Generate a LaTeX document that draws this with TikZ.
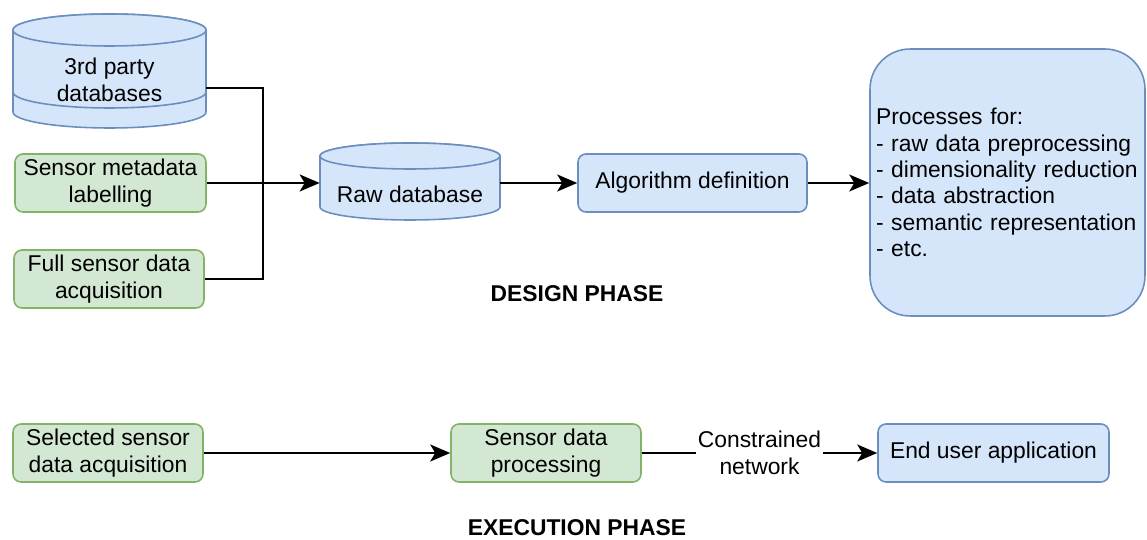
\documentclass[tikz,border=0pt]{standalone}
\usepackage{fontspec}
\setmainfont{Liberation Sans}
\usetikzlibrary{positioning}
\usetikzlibrary{arrows.meta}
\definecolor{bluefill}{HTML}{D6E6FA}
\definecolor{blueline}{HTML}{6C8EBF}
\definecolor{greenfill}{HTML}{D3E8D2}
\definecolor{greenline}{HTML}{82B366}
\newcommand{\txt}{\fontsize{13}{15}\selectfont}
% cylinder: centre x, x radius, y radius, top y, bottom y
\newcommand{\dbdraw}[5]{%
  \filldraw[dbline] ({#1-#2},#4) -- ({#1-#2},#5)
    arc[start angle=180, end angle=360, x radius=#2, y radius=#3]
    -- ({#1+#2},#4)
    arc[start angle=0, end angle=180, x radius=#2, y radius=#3] -- cycle;
  \draw[dbline] (#1,#4) ellipse [x radius=#2, y radius=#3];
}
\tikzset {
  x=0.02cm, y=0.02cm,
  % boxes of the two phases
  box/.style={line width=0.9pt, rounded corners=0.16cm, minimum height=1.16cm,
    align=center, font=\txt, inner sep=0pt},
  bluebox/.style={box, draw=blueline, fill=bluefill},
  greenbox/.style={box, draw=greenline, fill=greenfill},
  dbline/.style={draw=blueline, fill=bluefill, line width=0.9pt},
  dbtext/.style={align=center, font=\txt, inner sep=0pt},
  % connectors
  wire/.style={line width=1.1pt},
  arr/.style={wire, -{Stealth[length=0.4cm, width=0.34cm, inset=0.1cm]}},
  phase/.style={font=\bfseries\txt, inner sep=0pt},
}
\begin{document}
\begin{tikzpicture}
  \useasboundingbox (0,0) rectangle (1147,540);

  % design phase
  \dbdraw{109.5}{96.5}{16}{510}{428}
  \draw[dbline, fill=none] (13,448) arc[start angle=180, end angle=360, x radius=96.5, y radius=16];
  \node[dbtext, minimum width=3.86cm] (db3) at (109.5,460) {3rd party\\databases};

  \node[greenbox, minimum width=3.82cm] (smeta) at (110.5,357) {Sensor metadata\\labelling};
  \node[greenbox, minimum width=3.8cm] (fullacq) at (109,261) {Full sensor data\\acquisition};
  \coordinate (jn) at (263,358);

  \dbdraw{410}{90}{13}{384}{333}
  \node[dbtext, minimum width=3.6cm] (rawdb) at (410,346) {Raw database};

  \node[bluebox, minimum width=4.58cm] (algo) at (692.5,357) {Algorithm definition};
  \node[bluebox, rounded corners=0.8cm, minimum width=5.5cm, minimum height=5.34cm,
    text width=5.26cm, inner xsep=0.12cm, align=left] (procs) at (1007.5,357.5)
    {Processes for:\\- raw data preprocessing\\- dimensionality reduction\\- data abstraction\\- semantic representation\\- etc.};
  \node[phase] (design) at (577,246) {DESIGN PHASE};

  \draw[wire] ([yshift=-0.16cm]db3.east) -| (jn) |- (fullacq.east);
  \draw[arr] (smeta.east) -- (smeta.east -| rawdb.west);
  \draw[arr] (rawdb.east |- algo.west) -- (algo.west);
  \draw[arr] (algo.east) -- (algo.east -| procs.west);

  % execution phase
  \node[greenbox, minimum width=3.8cm] (selacq) at (108,87) {Selected sensor\\data acquisition};
  \node[greenbox, minimum width=3.8cm] (sproc) at (546,87) {Sensor data\\processing};
  \node[bluebox, minimum width=4.62cm] (enduser) at (993.5,87) {End user application};
  \node[phase] (exec) at (577,12) {EXECUTION PHASE};

  \draw[arr] (selacq) -- (sproc);
  \draw[arr] (sproc) -- node[fill=white, align=center, font=\txt, inner sep=1pt] (net)
    {Constrained\\network} (enduser);
\end{tikzpicture}
\end{document}
